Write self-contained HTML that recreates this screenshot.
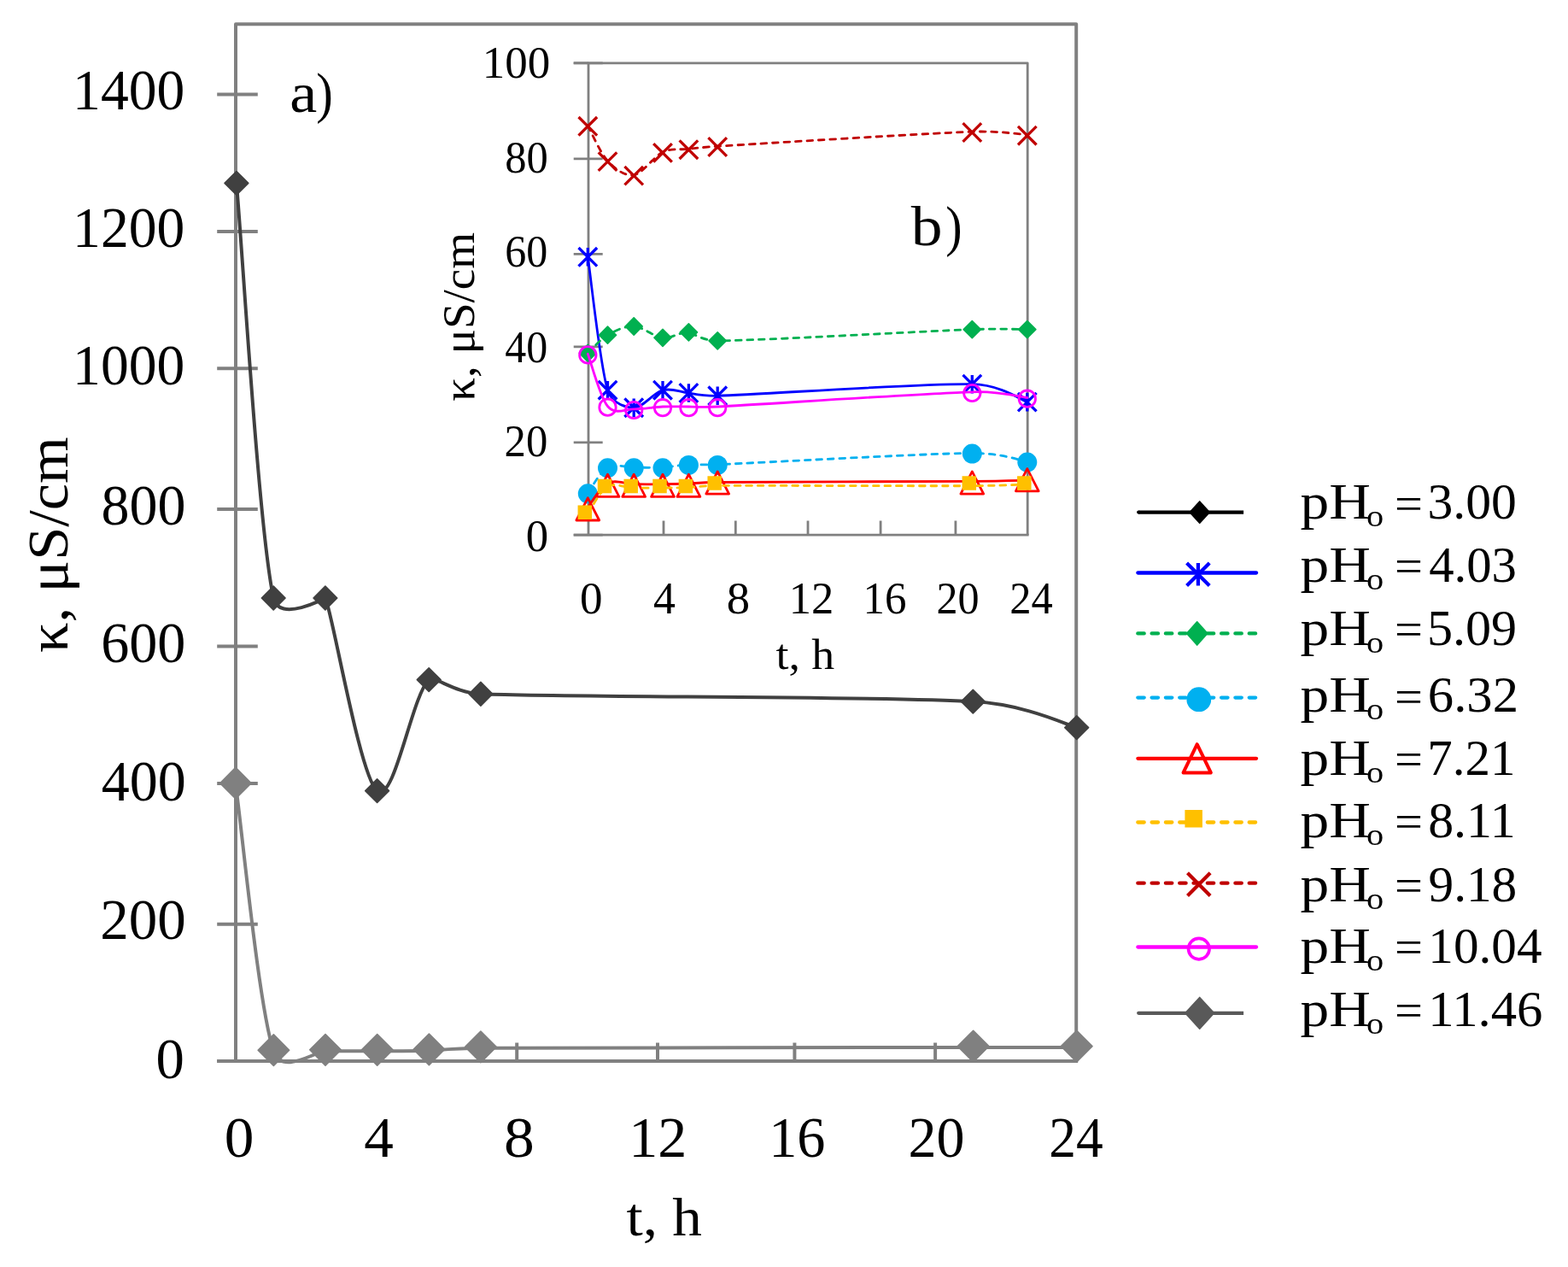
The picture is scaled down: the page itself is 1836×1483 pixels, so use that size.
<!DOCTYPE html>
<html><head><meta charset="utf-8"><title>Conductivity vs time</title>
<style>
html,body{margin:0;padding:0;background:#fff;}
body{width:1836px;height:1483px;overflow:hidden;}
svg{display:block;}
text{font-family:"Liberation Serif",serif;fill:#000;}
</style></head><body>
<svg width="1836" height="1483" viewBox="0 0 1836 1483">
<rect width="1836" height="1483" fill="#fff"/>
<path d="M276.0,1242.0 L276.0,28.3 L1260.2,28.3 L1260.2,1242.0" fill="none" stroke="#808080" stroke-width="4.0" stroke-linejoin="round"/>
<line x1="254.20" y1="1242.00" x2="1262.20" y2="1242.00" stroke="#808080" stroke-width="4.00" stroke-linecap="butt"/>
<line x1="254.20" y1="110.50" x2="301.80" y2="110.50" stroke="#808080" stroke-width="4.00" stroke-linecap="butt"/>
<line x1="254.20" y1="270.90" x2="301.80" y2="270.90" stroke="#808080" stroke-width="4.00" stroke-linecap="butt"/>
<line x1="254.20" y1="431.30" x2="301.80" y2="431.30" stroke="#808080" stroke-width="4.00" stroke-linecap="butt"/>
<line x1="254.20" y1="596.10" x2="301.80" y2="596.10" stroke="#808080" stroke-width="4.00" stroke-linecap="butt"/>
<line x1="254.20" y1="756.60" x2="301.80" y2="756.60" stroke="#808080" stroke-width="4.00" stroke-linecap="butt"/>
<line x1="254.20" y1="916.90" x2="301.80" y2="916.90" stroke="#808080" stroke-width="4.00" stroke-linecap="butt"/>
<line x1="254.20" y1="1081.70" x2="301.80" y2="1081.70" stroke="#808080" stroke-width="4.00" stroke-linecap="butt"/>
<line x1="254.20" y1="1242.00" x2="301.80" y2="1242.00" stroke="#808080" stroke-width="4.00" stroke-linecap="butt"/>
<line x1="440.60" y1="1242.00" x2="440.60" y2="1220.50" stroke="#808080" stroke-width="4.00" stroke-linecap="butt"/>
<line x1="605.20" y1="1242.00" x2="605.20" y2="1220.50" stroke="#808080" stroke-width="4.00" stroke-linecap="butt"/>
<line x1="770.00" y1="1242.00" x2="770.00" y2="1220.50" stroke="#808080" stroke-width="4.00" stroke-linecap="butt"/>
<line x1="930.40" y1="1242.00" x2="930.40" y2="1220.50" stroke="#808080" stroke-width="4.00" stroke-linecap="butt"/>
<line x1="1095.10" y1="1242.00" x2="1095.10" y2="1220.50" stroke="#808080" stroke-width="4.00" stroke-linecap="butt"/>
<text transform="translate(85.12,127.80) scale(0.9624,1)" font-size="68.20" >1400</text>
<text transform="translate(85.12,289.30) scale(0.9624,1)" font-size="68.20" >1200</text>
<text transform="translate(85.12,449.60) scale(0.9624,1)" font-size="68.20" >1000</text>
<text transform="translate(118.49,614.10) scale(0.9669,1)" font-size="68.20" >800</text>
<text transform="translate(118.22,774.90) scale(0.9696,1)" font-size="68.20" >600</text>
<text transform="translate(118.68,937.30) scale(0.9680,1)" font-size="68.20" >400</text>
<text transform="translate(117.25,1099.30) scale(0.9823,1)" font-size="68.20" >200</text>
<text transform="translate(182.46,1261.70) scale(0.9787,1)" font-size="68.20" >0</text>
<text transform="translate(262.87,1353.50) scale(1.0167,1)" font-size="68.20" >0</text>
<text transform="translate(426.22,1353.50) scale(1.0144,1)" font-size="68.20" >4</text>
<text transform="translate(589.88,1353.50) scale(1.0478,1)" font-size="68.20" >8</text>
<text transform="translate(736.31,1353.50) scale(0.9986,1)" font-size="68.20" >12</text>
<text transform="translate(900.17,1353.50) scale(0.9709,1)" font-size="68.20" >16</text>
<text transform="translate(1063.50,1353.50) scale(0.9679,1)" font-size="68.20" >20</text>
<text transform="translate(1228.21,1353.50) scale(0.9297,1)" font-size="68.20" >24</text>
<text transform="translate(733.51,1446.20) scale(1.0987,1)" font-size="63.00" >t, h</text>
<text transform="translate(79.20,764.01) rotate(-90) scale(1.0412,1)" font-size="67.50">κ, μS/cm</text>
<text transform="translate(339.21,130.70) scale(1.0921,1)" font-size="66.00" >a</text>
<text transform="translate(370.31,130.70) scale(0.8926,1)" font-size="66.00" >)</text>
<path d="M275.90,918.10 C283.32,970.18 302.88,1178.58 320.40,1230.60 C330.07,1259.32 369.84,1230.24 381.00,1230.20 C401.22,1230.13 421.47,1230.28 441.70,1230.20 C461.93,1230.12 482.20,1230.27 502.40,1229.70 C508.16,1229.54 532.62,1226.98 562.90,1226.80 C669.10,1226.18 1023.30,1226.13 1139.60,1226.00 C1200.15,1225.93 1250.19,1226.00 1260.70,1226.00" fill="none" stroke="#808080" stroke-width="4.00" stroke-linejoin="round" stroke-linecap="round"/>
<path d="M275.90,898.43 L294.17,916.70 L275.90,934.97 L257.63,916.70 Z" fill="#808080" stroke="#808080" stroke-width="1.60" stroke-linejoin="round"/>
<path d="M320.40,1210.93 L338.67,1229.20 L320.40,1247.47 L302.13,1229.20 Z" fill="#808080" stroke="#808080" stroke-width="1.60" stroke-linejoin="round"/>
<path d="M381.00,1210.53 L399.27,1228.80 L381.00,1247.07 L362.73,1228.80 Z" fill="#808080" stroke="#808080" stroke-width="1.60" stroke-linejoin="round"/>
<path d="M441.70,1210.53 L459.97,1228.80 L441.70,1247.07 L423.43,1228.80 Z" fill="#808080" stroke="#808080" stroke-width="1.60" stroke-linejoin="round"/>
<path d="M502.40,1210.03 L520.67,1228.30 L502.40,1246.57 L484.13,1228.30 Z" fill="#808080" stroke="#808080" stroke-width="1.60" stroke-linejoin="round"/>
<path d="M562.90,1207.13 L581.17,1225.40 L562.90,1243.67 L544.63,1225.40 Z" fill="#808080" stroke="#808080" stroke-width="1.60" stroke-linejoin="round"/>
<path d="M1139.60,1206.33 L1157.87,1224.60 L1139.60,1242.87 L1121.33,1224.60 Z" fill="#808080" stroke="#808080" stroke-width="1.60" stroke-linejoin="round"/>
<path d="M1260.70,1206.33 L1278.97,1224.60 L1260.70,1242.87 L1242.43,1224.60 Z" fill="#808080" stroke="#808080" stroke-width="1.60" stroke-linejoin="round"/>
<path d="M276.90,214.40 C284.12,295.33 302.87,619.07 320.20,700.00 C326.56,729.68 380.90,700.00 380.90,700.00 C388.99,715.04 421.38,909.67 441.60,925.60 C461.82,941.53 481.98,814.50 502.20,795.60 C508.19,790.00 531.46,810.94 562.90,812.20 C669.08,816.45 1023.00,814.53 1139.30,821.10 C1201.79,824.63 1249.83,848.87 1260.70,851.60" fill="none" stroke="#404040" stroke-width="4.00" stroke-linejoin="round" stroke-linecap="round"/>
<path d="M276.90,200.53 L290.77,214.40 L276.90,228.27 L263.03,214.40 Z" fill="#404040" stroke="#404040" stroke-width="1.60" stroke-linejoin="round"/>
<path d="M320.20,686.13 L334.07,700.00 L320.20,713.87 L306.33,700.00 Z" fill="#404040" stroke="#404040" stroke-width="1.60" stroke-linejoin="round"/>
<path d="M380.90,686.13 L394.77,700.00 L380.90,713.87 L367.03,700.00 Z" fill="#404040" stroke="#404040" stroke-width="1.60" stroke-linejoin="round"/>
<path d="M441.60,911.73 L455.47,925.60 L441.60,939.47 L427.73,925.60 Z" fill="#404040" stroke="#404040" stroke-width="1.60" stroke-linejoin="round"/>
<path d="M502.20,781.73 L516.07,795.60 L502.20,809.47 L488.33,795.60 Z" fill="#404040" stroke="#404040" stroke-width="1.60" stroke-linejoin="round"/>
<path d="M562.90,798.33 L576.77,812.20 L562.90,826.07 L549.03,812.20 Z" fill="#404040" stroke="#404040" stroke-width="1.60" stroke-linejoin="round"/>
<path d="M1139.30,807.23 L1153.17,821.10 L1139.30,834.97 L1125.43,821.10 Z" fill="#404040" stroke="#404040" stroke-width="1.60" stroke-linejoin="round"/>
<path d="M1260.70,837.73 L1274.57,851.60 L1260.70,865.47 L1246.83,851.60 Z" fill="#404040" stroke="#404040" stroke-width="1.60" stroke-linejoin="round"/>
<rect x="689.0" y="73.8" width="514.2" height="552.4" fill="none"/>
<path d="M689.0,626.2 L689.0,73.8 L1203.2,73.8 L1203.2,626.2" fill="none" stroke="#808080" stroke-width="2.8" stroke-linejoin="round"/>
<line x1="671.70" y1="73.80" x2="689.00" y2="73.80" stroke="#808080" stroke-width="2.80" stroke-linecap="butt"/>
<line x1="671.70" y1="626.20" x2="1204.60" y2="626.20" stroke="#808080" stroke-width="2.80" stroke-linecap="butt"/>
<line x1="671.70" y1="73.80" x2="705.70" y2="73.80" stroke="#808080" stroke-width="2.80" stroke-linecap="butt"/>
<line x1="671.70" y1="185.80" x2="705.70" y2="185.80" stroke="#808080" stroke-width="2.80" stroke-linecap="butt"/>
<line x1="671.70" y1="297.40" x2="705.70" y2="297.40" stroke="#808080" stroke-width="2.80" stroke-linecap="butt"/>
<line x1="671.70" y1="405.80" x2="705.70" y2="405.80" stroke="#808080" stroke-width="2.80" stroke-linecap="butt"/>
<line x1="671.70" y1="517.80" x2="705.70" y2="517.80" stroke="#808080" stroke-width="2.80" stroke-linecap="butt"/>
<line x1="671.70" y1="626.20" x2="705.70" y2="626.20" stroke="#808080" stroke-width="2.80" stroke-linecap="butt"/>
<line x1="777.00" y1="626.20" x2="777.00" y2="609.50" stroke="#808080" stroke-width="2.80" stroke-linecap="butt"/>
<line x1="861.30" y1="626.20" x2="861.30" y2="609.50" stroke="#808080" stroke-width="2.80" stroke-linecap="butt"/>
<line x1="946.00" y1="626.20" x2="946.00" y2="609.50" stroke="#808080" stroke-width="2.80" stroke-linecap="butt"/>
<line x1="1031.10" y1="626.20" x2="1031.10" y2="609.50" stroke="#808080" stroke-width="2.80" stroke-linecap="butt"/>
<line x1="1118.90" y1="626.20" x2="1118.90" y2="609.50" stroke="#808080" stroke-width="2.80" stroke-linecap="butt"/>
<text transform="translate(564.74,90.80) scale(0.9885,1)" font-size="53.60" >100</text>
<text transform="translate(591.18,201.50) scale(0.9429,1)" font-size="53.60" >80</text>
<text transform="translate(591.20,312.30) scale(0.9328,1)" font-size="53.60" >60</text>
<text transform="translate(591.20,423.60) scale(0.9328,1)" font-size="53.60" >40</text>
<text transform="translate(590.57,534.00) scale(0.9450,1)" font-size="53.60" >20</text>
<text transform="translate(615.79,644.50) scale(0.9856,1)" font-size="53.60" >0</text>
<text transform="translate(678.88,717.60) scale(0.9900,1)" font-size="53.60" >0</text>
<text transform="translate(764.96,717.60) scale(0.9690,1)" font-size="53.60" >4</text>
<text transform="translate(850.72,717.60) scale(1.0208,1)" font-size="53.60" >8</text>
<text transform="translate(923.67,717.60) scale(0.9808,1)" font-size="53.60" >12</text>
<text transform="translate(1010.62,717.60) scale(0.9498,1)" font-size="53.60" >16</text>
<text transform="translate(1096.40,717.60) scale(0.9349,1)" font-size="53.60" >20</text>
<text transform="translate(1182.17,717.60) scale(0.9447,1)" font-size="53.60" >24</text>
<text transform="translate(908.46,783.00) scale(1.0659,1)" font-size="50.50" >t, h</text>
<text transform="translate(554.60,469.70) rotate(-90) scale(1.0261,1)" font-size="53.60">κ, μS/cm</text>
<text transform="translate(1066.70,287.00) scale(1.1150,1)" font-size="66.00" >b</text>
<text transform="translate(1107.34,287.00) scale(0.8809,1)" font-size="66.00" >)</text>
<path d="M688.30,300.80 C692.17,326.78 702.52,427.30 711.50,456.70 C716.89,474.35 735.75,477.20 742.20,477.20 C752.95,477.20 765.30,459.57 776.00,456.70 C786.70,453.83 795.70,458.90 806.40,460.00 C809.68,460.34 823.23,463.83 840.20,463.30 C895.52,461.58 1077.87,448.48 1138.30,449.70 C1172.19,450.38 1196.77,468.65 1202.80,470.60" fill="none" stroke="#0000FF" stroke-width="2.80" stroke-linejoin="round" stroke-linecap="round"/>
<path d="M677.50,290.00 L699.10,311.60 M677.50,311.60 L699.10,290.00 M688.30,290.00 L688.30,311.60" stroke="#0000FF" stroke-width="3.30" fill="none"/>
<path d="M700.70,445.90 L722.30,467.50 M700.70,467.50 L722.30,445.90 M711.50,445.90 L711.50,467.50" stroke="#0000FF" stroke-width="3.30" fill="none"/>
<path d="M731.40,466.40 L753.00,488.00 M731.40,488.00 L753.00,466.40 M742.20,466.40 L742.20,488.00" stroke="#0000FF" stroke-width="3.30" fill="none"/>
<path d="M765.20,445.90 L786.80,467.50 M765.20,467.50 L786.80,445.90 M776.00,445.90 L776.00,467.50" stroke="#0000FF" stroke-width="3.30" fill="none"/>
<path d="M795.60,449.20 L817.20,470.80 M795.60,470.80 L817.20,449.20 M806.40,449.20 L806.40,470.80" stroke="#0000FF" stroke-width="3.30" fill="none"/>
<path d="M829.40,452.50 L851.00,474.10 M829.40,474.10 L851.00,452.50 M840.20,452.50 L840.20,474.10" stroke="#0000FF" stroke-width="3.30" fill="none"/>
<path d="M1127.50,438.90 L1149.10,460.50 M1127.50,460.50 L1149.10,438.90 M1138.30,438.90 L1138.30,460.50" stroke="#0000FF" stroke-width="3.30" fill="none"/>
<path d="M1192.00,459.80 L1213.60,481.40 M1192.00,481.40 L1213.60,459.80 M1202.80,459.80 L1202.80,481.40" stroke="#0000FF" stroke-width="3.30" fill="none"/>
<path d="M688.30,413.30 C692.17,409.78 702.52,397.42 711.50,392.20 C720.48,386.98 731.45,381.48 742.20,382.00 C752.95,382.52 765.30,394.15 776.00,395.30 C786.70,396.45 795.70,388.30 806.40,388.90 C809.81,389.09 822.58,399.08 840.20,398.90 C895.52,398.35 1077.87,387.82 1138.30,385.60 C1170.53,384.42 1197.07,385.60 1202.80,385.60" fill="none" stroke="#00B050" stroke-width="2.80" stroke-linejoin="round" stroke-dasharray="6.6 6.9" stroke-linecap="round"/>
<path d="M688.30,403.23 L698.37,413.30 L688.30,423.37 L678.23,413.30 Z" fill="#00B050" stroke="#00B050" stroke-width="1.60" stroke-linejoin="round"/>
<path d="M711.50,382.13 L721.57,392.20 L711.50,402.27 L701.43,392.20 Z" fill="#00B050" stroke="#00B050" stroke-width="1.60" stroke-linejoin="round"/>
<path d="M742.20,371.93 L752.27,382.00 L742.20,392.07 L732.13,382.00 Z" fill="#00B050" stroke="#00B050" stroke-width="1.60" stroke-linejoin="round"/>
<path d="M776.00,385.23 L786.07,395.30 L776.00,405.37 L765.93,395.30 Z" fill="#00B050" stroke="#00B050" stroke-width="1.60" stroke-linejoin="round"/>
<path d="M806.40,378.83 L816.47,388.90 L806.40,398.97 L796.33,388.90 Z" fill="#00B050" stroke="#00B050" stroke-width="1.60" stroke-linejoin="round"/>
<path d="M840.20,388.83 L850.27,398.90 L840.20,408.97 L830.13,398.90 Z" fill="#00B050" stroke="#00B050" stroke-width="1.60" stroke-linejoin="round"/>
<path d="M1138.30,375.53 L1148.37,385.60 L1138.30,395.67 L1128.23,385.60 Z" fill="#00B050" stroke="#00B050" stroke-width="1.60" stroke-linejoin="round"/>
<path d="M1202.80,375.53 L1212.87,385.60 L1202.80,395.67 L1192.73,385.60 Z" fill="#00B050" stroke="#00B050" stroke-width="1.60" stroke-linejoin="round"/>
<path d="M688.30,577.10 C692.17,572.10 702.52,552.10 711.50,547.10 C720.48,542.10 731.45,547.10 742.20,547.10 C752.95,547.10 765.30,547.67 776.00,547.10 C786.70,546.53 795.70,544.27 806.40,543.70 C809.67,543.53 823.31,544.38 840.20,543.70 C895.52,541.48 1077.87,530.95 1138.30,530.40 C1170.93,530.10 1197.00,539.50 1202.80,540.40" fill="none" stroke="#00B0F0" stroke-width="2.80" stroke-linejoin="round" stroke-dasharray="6.6 6.9" stroke-linecap="round"/>
<circle cx="688.30" cy="577.80" r="11.50" fill="#00B0F0"/>
<circle cx="711.50" cy="547.80" r="11.50" fill="#00B0F0"/>
<circle cx="742.20" cy="547.80" r="11.50" fill="#00B0F0"/>
<circle cx="776.00" cy="547.80" r="11.50" fill="#00B0F0"/>
<circle cx="806.40" cy="544.40" r="11.50" fill="#00B0F0"/>
<circle cx="840.20" cy="544.40" r="11.50" fill="#00B0F0"/>
<circle cx="1138.30" cy="531.10" r="11.50" fill="#00B0F0"/>
<circle cx="1202.80" cy="541.10" r="11.50" fill="#00B0F0"/>
<path d="M688.30,594.00 C692.17,589.25 702.52,570.05 711.50,565.50 C720.48,560.95 731.45,566.50 742.20,566.70 C752.95,566.90 765.30,566.82 776.00,566.70 C786.70,566.58 795.70,566.37 806.40,566.00 C809.67,565.89 823.28,564.64 840.20,564.50 C895.52,564.05 1077.87,563.68 1138.30,563.30 C1170.55,563.10 1197.06,562.30 1202.80,562.20" fill="none" stroke="#FF0000" stroke-width="2.80" stroke-linejoin="round" stroke-linecap="round"/>
<path d="M688.30,582.80 L701.70,609.00 L674.90,609.00 Z" fill="none" stroke="#FF0000" stroke-width="2.80" stroke-linejoin="round"/>
<path d="M711.50,555.20 L724.90,581.40 L698.10,581.40 Z" fill="none" stroke="#FF0000" stroke-width="2.80" stroke-linejoin="round"/>
<path d="M742.20,555.20 L755.60,581.40 L728.80,581.40 Z" fill="none" stroke="#FF0000" stroke-width="2.80" stroke-linejoin="round"/>
<path d="M776.00,555.20 L789.40,581.40 L762.60,581.40 Z" fill="none" stroke="#FF0000" stroke-width="2.80" stroke-linejoin="round"/>
<path d="M806.40,555.20 L819.80,581.40 L793.00,581.40 Z" fill="none" stroke="#FF0000" stroke-width="2.80" stroke-linejoin="round"/>
<path d="M840.20,551.90 L853.60,578.10 L826.80,578.10 Z" fill="none" stroke="#FF0000" stroke-width="2.80" stroke-linejoin="round"/>
<path d="M1138.30,551.90 L1151.70,578.10 L1124.90,578.10 Z" fill="none" stroke="#FF0000" stroke-width="2.80" stroke-linejoin="round"/>
<path d="M1202.80,548.60 L1216.20,574.80 L1189.40,574.80 Z" fill="none" stroke="#FF0000" stroke-width="2.80" stroke-linejoin="round"/>
<path d="M688.30,601.00 C692.17,595.75 702.52,574.48 711.50,569.50 C720.48,564.52 731.45,570.85 742.20,571.10 C752.95,571.35 765.30,571.08 776.00,571.00 C786.70,570.92 795.70,571.02 806.40,570.60 C809.68,570.47 823.27,568.60 840.20,568.50 C895.52,568.18 1077.87,568.97 1138.30,568.70 C1170.56,568.56 1197.06,567.06 1202.80,566.90" fill="none" stroke="#FFC000" stroke-width="2.80" stroke-linejoin="round" stroke-dasharray="6.6 6.9" stroke-linecap="round"/>
<rect x="676.55" y="591.45" width="16.50" height="16.50" fill="#FFC000"/>
<rect x="699.75" y="560.75" width="16.50" height="16.50" fill="#FFC000"/>
<rect x="730.45" y="560.75" width="16.50" height="16.50" fill="#FFC000"/>
<rect x="764.25" y="560.75" width="16.50" height="16.50" fill="#FFC000"/>
<rect x="794.65" y="560.75" width="16.50" height="16.50" fill="#FFC000"/>
<rect x="828.45" y="557.25" width="16.50" height="16.50" fill="#FFC000"/>
<rect x="1126.55" y="557.25" width="16.50" height="16.50" fill="#FFC000"/>
<rect x="1191.05" y="557.25" width="16.50" height="16.50" fill="#FFC000"/>
<path d="M688.30,147.00 C692.17,153.88 702.52,178.67 711.50,188.30 C720.48,197.93 731.45,206.50 742.20,204.80 C752.95,203.10 765.30,183.17 776.00,178.10 C786.70,173.03 795.70,175.55 806.40,174.40 C809.68,174.05 823.26,172.23 840.20,171.20 C895.52,167.83 1077.87,156.42 1138.30,154.20 C1170.58,153.02 1197.06,157.57 1202.80,157.90" fill="none" stroke="#C00000" stroke-width="2.80" stroke-linejoin="round" stroke-dasharray="6.6 6.9" stroke-linecap="round"/>
<path d="M677.50,137.00 L699.10,158.60 M677.50,158.60 L699.10,137.00" stroke="#C00000" stroke-width="3.30" fill="none"/>
<path d="M700.70,178.30 L722.30,199.90 M700.70,199.90 L722.30,178.30" stroke="#C00000" stroke-width="3.30" fill="none"/>
<path d="M731.40,194.80 L753.00,216.40 M731.40,216.40 L753.00,194.80" stroke="#C00000" stroke-width="3.30" fill="none"/>
<path d="M765.20,168.10 L786.80,189.70 M765.20,189.70 L786.80,168.10" stroke="#C00000" stroke-width="3.30" fill="none"/>
<path d="M795.60,164.40 L817.20,186.00 M795.60,186.00 L817.20,164.40" stroke="#C00000" stroke-width="3.30" fill="none"/>
<path d="M829.40,161.20 L851.00,182.80 M829.40,182.80 L851.00,161.20" stroke="#C00000" stroke-width="3.30" fill="none"/>
<path d="M1127.50,144.20 L1149.10,165.80 M1127.50,165.80 L1149.10,144.20" stroke="#C00000" stroke-width="3.30" fill="none"/>
<path d="M1192.00,147.90 L1213.60,169.50 M1192.00,169.50 L1213.60,147.90" stroke="#C00000" stroke-width="3.30" fill="none"/>
<path d="M688.30,414.20 C692.17,424.42 702.52,464.73 711.50,475.50 C720.48,486.27 731.45,478.72 742.20,478.80 C752.95,478.88 765.30,476.47 776.00,476.00 C786.70,475.53 795.70,476.00 806.40,476.00 C809.66,476.00 823.32,476.87 840.20,476.00 C895.52,473.13 1077.87,460.55 1138.30,458.80 C1170.71,457.86 1197.03,464.90 1202.80,465.50" fill="none" stroke="#FF00FF" stroke-width="2.80" stroke-linejoin="round" stroke-linecap="round"/>
<circle cx="688.30" cy="415.40" r="9.70" fill="none" stroke="#FF00FF" stroke-width="2.80"/>
<circle cx="711.50" cy="476.70" r="9.70" fill="none" stroke="#FF00FF" stroke-width="2.80"/>
<circle cx="742.20" cy="480.00" r="9.70" fill="none" stroke="#FF00FF" stroke-width="2.80"/>
<circle cx="776.00" cy="477.20" r="9.70" fill="none" stroke="#FF00FF" stroke-width="2.80"/>
<circle cx="806.40" cy="477.20" r="9.70" fill="none" stroke="#FF00FF" stroke-width="2.80"/>
<circle cx="840.20" cy="477.20" r="9.70" fill="none" stroke="#FF00FF" stroke-width="2.80"/>
<circle cx="1138.30" cy="460.00" r="9.70" fill="none" stroke="#FF00FF" stroke-width="2.80"/>
<circle cx="1202.80" cy="466.70" r="9.70" fill="none" stroke="#FF00FF" stroke-width="2.80"/>
<path d="M1333.2,599.6 L1456.1,599.6" stroke="#000" stroke-width="4.3" stroke-linecap="butt"/>
<circle cx="1333.20" cy="599.60" r="2.15" fill="#000"/>
<path d="M1404.70,586.93 L1416.17,599.60 L1404.70,612.27 L1393.23,599.60 Z" fill="#000" stroke="#000" stroke-width="1.60" stroke-linejoin="round"/>
<text transform="translate(1522.62,607.40) scale(1.1239,1)" font-size="60.00" >pH</text>
<text transform="translate(1599.97,616.40) scale(1.1523,1)" font-size="35.00" >o</text>
<text transform="translate(1632.88,607.70) scale(1.0613,1)" font-size="55.00" >=</text>
<text transform="translate(1671.54,607.40) scale(1.0191,1)" font-size="58.50" >3.00</text>
<line x1="1332.40" y1="670.50" x2="1471.00" y2="670.50" stroke="#0000FF" stroke-width="4.30" stroke-linecap="round"/>
<path d="M1389.60,659.00 L1416.20,685.60 M1389.60,685.60 L1416.20,659.00 M1402.90,659.00 L1402.90,685.60" stroke="#0000FF" stroke-width="4.20" fill="none"/>
<text transform="translate(1522.62,681.00) scale(1.1239,1)" font-size="60.00" >pH</text>
<text transform="translate(1599.97,690.00) scale(1.1523,1)" font-size="35.00" >o</text>
<text transform="translate(1632.88,681.30) scale(1.0613,1)" font-size="55.00" >=</text>
<text transform="translate(1673.23,681.00) scale(1.0034,1)" font-size="58.50" >4.03</text>
<line x1="1332.30" y1="741.40" x2="1471.00" y2="741.40" stroke="#00B050" stroke-width="4.30" stroke-linecap="round" stroke-dasharray="7.4 8.9"/>
<path d="M1401.70,727.73 L1413.77,741.40 L1401.70,755.07 L1389.63,741.40 Z" fill="#00B050" stroke="#00B050" stroke-width="1.60" stroke-linejoin="round"/>
<text transform="translate(1522.62,755.10) scale(1.1239,1)" font-size="60.00" >pH</text>
<text transform="translate(1599.97,764.10) scale(1.1523,1)" font-size="35.00" >o</text>
<text transform="translate(1632.88,755.40) scale(1.0613,1)" font-size="55.00" >=</text>
<text transform="translate(1670.91,755.10) scale(1.0277,1)" font-size="58.50" >5.09</text>
<line x1="1332.30" y1="816.60" x2="1471.00" y2="816.60" stroke="#00B0F0" stroke-width="4.30" stroke-linecap="round" stroke-dasharray="7.4 8.9"/>
<circle cx="1403.80" cy="818.70" r="14.40" fill="#00B0F0"/>
<text transform="translate(1522.62,833.30) scale(1.1239,1)" font-size="60.00" >pH</text>
<text transform="translate(1599.97,842.30) scale(1.1523,1)" font-size="35.00" >o</text>
<text transform="translate(1632.88,833.60) scale(1.0613,1)" font-size="55.00" >=</text>
<text transform="translate(1671.85,833.30) scale(1.0368,1)" font-size="58.50" >6.32</text>
<line x1="1332.40" y1="887.80" x2="1471.00" y2="887.80" stroke="#FF0000" stroke-width="4.30" stroke-linecap="round"/>
<path d="M1401.70,871.20 L1417.85,904.40 L1385.55,904.40 Z" fill="none" stroke="#FF0000" stroke-width="4.00" stroke-linejoin="round"/>
<text transform="translate(1522.62,906.90) scale(1.1239,1)" font-size="60.00" >pH</text>
<text transform="translate(1599.97,915.90) scale(1.1523,1)" font-size="35.00" >o</text>
<text transform="translate(1632.88,907.20) scale(1.0613,1)" font-size="55.00" >=</text>
<text transform="translate(1671.31,906.90) scale(1.0084,1)" font-size="58.50" >7.21</text>
<line x1="1332.30" y1="962.50" x2="1471.00" y2="962.50" stroke="#FFC000" stroke-width="4.30" stroke-linecap="round" stroke-dasharray="7.4 8.9"/>
<rect x="1387.40" y="948.00" width="20.50" height="20.50" fill="#FFC000"/>
<text transform="translate(1522.62,980.00) scale(1.1239,1)" font-size="60.00" >pH</text>
<text transform="translate(1599.97,989.00) scale(1.1523,1)" font-size="35.00" >o</text>
<text transform="translate(1632.88,980.30) scale(1.0613,1)" font-size="55.00" >=</text>
<text transform="translate(1672.13,980.00) scale(1.0231,1)" font-size="58.50" >8.11</text>
<line x1="1332.30" y1="1033.70" x2="1471.00" y2="1033.70" stroke="#C00000" stroke-width="4.30" stroke-linecap="round" stroke-dasharray="7.4 8.9"/>
<path d="M1390.50,1021.80 L1417.10,1048.40 M1390.50,1048.40 L1417.10,1021.80" stroke="#C00000" stroke-width="4.20" fill="none"/>
<text transform="translate(1522.62,1054.60) scale(1.1239,1)" font-size="60.00" >pH</text>
<text transform="translate(1599.97,1063.60) scale(1.1523,1)" font-size="35.00" >o</text>
<text transform="translate(1632.88,1054.90) scale(1.0613,1)" font-size="55.00" >=</text>
<text transform="translate(1672.50,1054.60) scale(1.0134,1)" font-size="58.50" >9.18</text>
<line x1="1332.40" y1="1108.50" x2="1471.00" y2="1108.50" stroke="#FF00FF" stroke-width="4.30" stroke-linecap="round"/>
<circle cx="1403.80" cy="1110.60" r="12.25" fill="none" stroke="#FF00FF" stroke-width="3.70"/>
<text transform="translate(1522.62,1126.80) scale(1.1239,1)" font-size="60.00" >pH</text>
<text transform="translate(1599.97,1135.80) scale(1.1523,1)" font-size="35.00" >o</text>
<text transform="translate(1632.88,1127.10) scale(1.0613,1)" font-size="55.00" >=</text>
<text transform="translate(1672.29,1126.80) scale(1.0124,1)" font-size="58.50" >10.04</text>
<path d="M1333.2,1185.8 L1456.1,1185.8" stroke="#595959" stroke-width="4.3"/>
<circle cx="1333.20" cy="1185.80" r="2.15" fill="#595959"/>
<path d="M1404.70,1167.43 L1421.57,1185.80 L1404.70,1204.17 L1387.83,1185.80 Z" fill="#595959" stroke="#595959" stroke-width="1.60" stroke-linejoin="round"/>
<text transform="translate(1522.62,1200.50) scale(1.1239,1)" font-size="60.00" >pH</text>
<text transform="translate(1599.97,1209.50) scale(1.1523,1)" font-size="35.00" >o</text>
<text transform="translate(1632.88,1200.80) scale(1.0613,1)" font-size="55.00" >=</text>
<text transform="translate(1672.16,1200.50) scale(1.0376,1)" font-size="58.50" >11.46</text>
</svg>
</body></html>
